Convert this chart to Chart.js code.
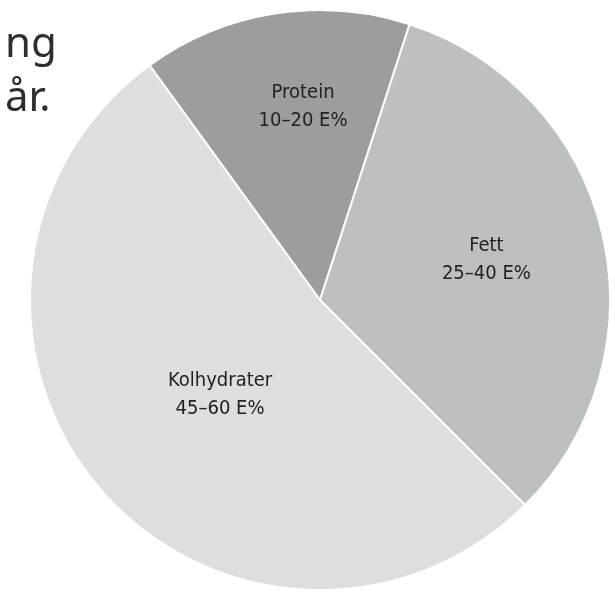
<!DOCTYPE html>
<html>
<head>
<meta charset="utf-8">
<script src="https://cdn.jsdelivr.net/npm/chart.js@4"></script>
<style>
  html, body { margin: 0; padding: 0; background: #fff; }
  #wrap { position: relative; width: 615px; height: 597px; }
  .frag {
    position: absolute; left: 5px;
    font-family: "Noto Sans", sans-serif; font-size: 42px; color: #2e2e2e;
    line-height: 1;
  }
</style>
</head>
<body>
<div id="wrap">
  <canvas id="energyChart" width="615" height="597"></canvas>
  <div class="frag" style="top: 20px;">ng</div>
  <div class="frag" style="top: 74px;">år.</div>
</div>
<script>
  // Recommended energy distribution (E%)
  const categories = ['Protein', 'Fett', 'Kolhydrater'];
  const rangeLabels = ['10–20 E%', '25–40 E%', '45–60 E%'];
  const shares = [15, 32.5, 52.5];

  const sliceColors = ['#9b9ea0', '#bdc0c1', '#dddee0'];
  // label placement: distance from centre (part of radius) and a small turn in degrees
  const labelDepth = [0.67, 0.59, 0.475];
  const labelTurn = [4, 0, -3];

  const sliceLabels = {
    id: 'sliceLabels',
    afterDatasetsDraw(chart) {
      const ctx = chart.ctx;
      const arcs = chart.getDatasetMeta(0).data;
      ctx.save();
      ctx.fillStyle = '#222';
      ctx.font = '20px "DejaVu Sans Condensed", "Liberation Sans Narrow", sans-serif';
      ctx.textAlign = 'center';
      ctx.textBaseline = 'middle';
      arcs.forEach((arc, i) => {
        const p = arc.getProps(['x', 'y', 'startAngle', 'endAngle', 'outerRadius'], true);
        const mid = (p.startAngle + p.endAngle) / 2 + labelTurn[i] * Math.PI / 180;
        const r = p.outerRadius * labelDepth[i];
        const cx = p.x + Math.cos(mid) * r;
        const cy = p.y + Math.sin(mid) * r;
        ctx.fillText(categories[i], cx, cy - 14);
        ctx.fillText(rangeLabels[i], cx, cy + 14);
      });
      ctx.restore();
    }
  };

  const ctx = document.getElementById('energyChart').getContext('2d');
  new Chart(ctx, {
    type: 'pie',
    data: {
      labels: categories,
      datasets: [{
        data: shares,
        backgroundColor: sliceColors,
        borderColor: '#ffffff',
        borderWidth: 2
      }]
    },
    options: {
      responsive: false,
      animation: false,
      rotation: -36,
      layout: { padding: { top: 9, bottom: 6, left: 29, right: 4 } },
      plugins: {
        legend: { display: false },
        tooltip: { enabled: false }
      }
    },
    plugins: [sliceLabels]
  });
</script>
</body>
</html>
